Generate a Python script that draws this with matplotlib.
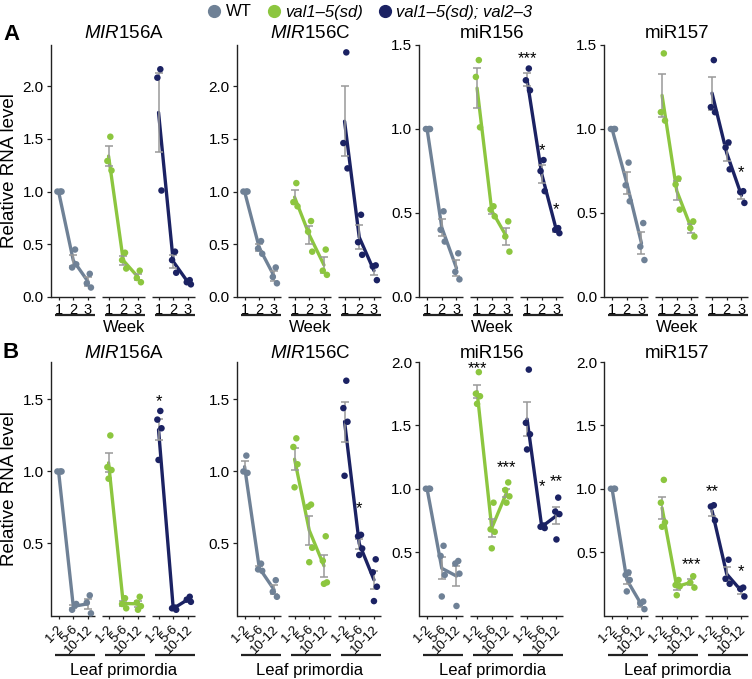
import numpy as np
import matplotlib.pyplot as plt
from matplotlib.lines import Line2D
from matplotlib.ticker import FormatStrFormatter
from matplotlib.transforms import ScaledTranslation

plt.rcParams['font.family'] = ['Liberation Sans', 'DejaVu Sans']
plt.rcParams['mathtext.fontset'] = 'custom'
plt.rcParams['mathtext.it'] = 'Liberation Sans:italic'
plt.rcParams['mathtext.rm'] = 'Liberation Sans'

# genotipos e cores
genotypes = ["WT", "val1–5(sd)", "val1–5(sd); val2–3"]
colors = ["#6f8196", "#8cc63f", "#1b2263"]
weeks = ["1", "2", "3"]
leaves = ["1-2", "5-6", "10-12"]

# A: replicas por genotipo -> por semana
a_mir156a = [
    [[1.0, 1.0, 1.0], [0.45, 0.28, 0.31], [0.22, 0.13, 0.09]],
    [[1.52, 1.29, 1.20], [0.42, 0.35, 0.27], [0.25, 0.18, 0.14]],
    [[2.16, 2.08, 1.01], [0.43, 0.35, 0.23], [0.16, 0.14, 0.12]],
]
a_mir156c = [
    [[1.0, 1.0, 1.0], [0.53, 0.46, 0.41], [0.28, 0.19, 0.13]],
    [[1.08, 0.90, 0.86], [0.72, 0.62, 0.43], [0.45, 0.25, 0.21]],
    [[2.32, 1.46, 1.22], [0.78, 0.52, 0.40], [0.30, 0.29, 0.16]],
]
a_mir156 = [
    [[1.0, 1.0, 1.0], [0.51, 0.40, 0.33], [0.26, 0.15, 0.105]],
    [[1.41, 1.31, 1.01], [0.54, 0.52, 0.48], [0.45, 0.36, 0.27]],
    [[1.36, 1.29, 1.23], [0.815, 0.75, 0.63], [0.41, 0.40, 0.38]],
]
a_mir157 = [
    [[1.0, 1.0, 1.0], [0.80, 0.665, 0.57], [0.44, 0.30, 0.22]],
    [[1.45, 1.10, 1.05], [0.705, 0.67, 0.52], [0.45, 0.41, 0.36]],
    [[1.41, 1.13, 1.10], [0.92, 0.89, 0.76], [0.63, 0.625, 0.56]],
]

# B: replicas por genotipo -> por primordio foliar
b_mir156a = [
    [[1.0, 1.0, 1.0], [0.07, 0.04, 0.08], [0.14, 0.09, 0.015]],
    [[1.25, 1.03, 1.01, 0.95], [0.12, 0.08, 0.05], [0.13, 0.09, 0.065, 0.04]],
    [[1.42, 1.36, 1.30, 1.08], [0.055, 0.05, 0.04], [0.13, 0.11, 0.095]],
]
b_mir156c = [
    [[1.11, 1.0, 0.99], [0.36, 0.32, 0.31], [0.245, 0.165, 0.13]],
    [[1.23, 1.17, 1.05, 0.89], [0.77, 0.755, 0.47, 0.37], [0.55, 0.38, 0.23, 0.22]],
    [[1.63, 1.44, 1.345, 0.97], [0.56, 0.55, 0.465, 0.42], [0.39, 0.30, 0.20, 0.10]],
]
b_mir156 = [
    [[1.0, 1.0, 1.0], [0.55, 0.47, 0.32, 0.15], [0.43, 0.41, 0.33, 0.075]],
    [[1.92, 1.75, 1.73, 1.67], [0.89, 0.68, 0.66, 0.53], [1.05, 0.99, 0.94, 0.89]],
    [[1.94, 1.52, 1.43, 1.31], [0.71, 0.70, 0.69], [0.93, 0.82, 0.80, 0.60]],
]
b_mir157 = [
    [[1.0, 1.0, 1.0], [0.34, 0.32, 0.28, 0.19], [0.11, 0.095, 0.05]],
    [[1.07, 0.89, 0.735, 0.70], [0.28, 0.24, 0.23, 0.16], [0.31, 0.26, 0.22]],
    [[0.87, 0.86, 0.75], [0.44, 0.29, 0.25], [0.22, 0.21, 0.15]],
]

# asteriscos: (genotipo, ponto, y, texto)
stars_a156 = [(2, 0, 1.45, "***"), (2, 1, 0.90, "*"), (2, 2, 0.55, "*")]
stars_a157 = [(2, 2, 0.77, "*")]
stars_b156a = [(2, 0, 1.52, "*")]
stars_b156c = [(2, 1, 0.78, "*")]
stars_b156 = [(1, 0, 1.99, "***"), (1, 2, 1.21, "***"), (2, 0, 2.01, "*"),
              (2, 1, 1.06, "*"), (2, 2, 1.10, "**")]
stars_b157 = [(2, 0, 1.02, "**"), (1, 2, 0.44, "***"), (2, 2, 0.39, "*")]

W, H = 752, 679
GAP = 3.4
XLIM = (-0.55, 9.45)
jit = np.array([0.12, -0.08, 0.2, 0.0])

fig = plt.figure(figsize=(W / 100, H / 100), dpi=100)


def add_ax(left, top, bottom, width=147):
    return fig.add_axes([left / W, 1 - bottom / H, width / W, (bottom - top) / H])


def draw(ax, px, reps, ylim, yticks, xlabels, stars, title, title_gap, under_px, xname, name_px, rotate):
    top_px, bot_px = px
    hpx = bot_px - top_px
    for g in range(3):
        xs = g * GAP + np.arange(3)
        means = [np.mean(v) for v in reps[g]]
        ses = [np.std(v, ddof=1) / np.sqrt(len(v)) for v in reps[g]]
        ax.plot(xs, means, color=colors[g], lw=2.4, zorder=2, solid_capstyle='round')
        ax.errorbar(xs, means, yerr=ses, fmt='none', ecolor='#999999', elinewidth=1.1,
                    capsize=3, capthick=1.1, zorder=3)
        for t in range(3):
            v = reps[g][t]
            ax.scatter(xs[t] + jit[:len(v)], v, s=22, color=colors[g], edgecolors='none',
                       zorder=4, clip_on=False)
    for g, t, y, txt in stars:
        ax.annotate(txt, (g * GAP + t, y), xytext=(0, -7), textcoords='offset points',
                    ha='center', va='baseline', fontsize=12)

    ax.set_xlim(*XLIM)
    ax.set_ylim(*ylim)
    ax.set_yticks(yticks)
    ax.yaxis.set_major_formatter(FormatStrFormatter('%.1f'))
    pos = [g * GAP + t for g in range(3) for t in range(3)]
    ax.set_xticks(pos)
    ax.set_xticklabels(xlabels * 3)
    for s in ['top', 'right', 'bottom']:
        ax.spines[s].set_visible(False)
    ax.spines['left'].set_color('#222222')
    ax.spines['left'].set_linewidth(1.0)
    ax.tick_params(axis='y', labelsize=11, length=3, width=0.9, pad=2, color='#222222')
    ax.tick_params(axis='x', labelsize=10.5, length=2.5, width=0.9, pad=1.5, color='#222222')
    if rotate:
        ax.tick_params(axis='x', labelsize=9.5, pad=3)
        for lab in ax.get_xticklabels():
            lab.set_rotation(45)
            lab.set_ha('right')
            lab.set_transform(lab.get_transform() + ScaledTranslation(0.07, 0, fig.dpi_scale_trans))

    tr = ax.get_xaxis_transform()
    uy = -(under_px - bot_px) / hpx
    for g in range(3):
        x0 = XLIM[0] if g == 0 else g * GAP - 0.45
        ax.plot([x0, g * GAP + 2.45], [0, 0], transform=tr, color='#222222', lw=1.0,
                clip_on=False, solid_capstyle='butt')
        ax.plot([g * GAP - 0.27, g * GAP + 2.45], [uy, uy], transform=tr, color='#222222',
                lw=1.6, clip_on=False, solid_capstyle='butt')
    ax.text(0.5, -(name_px - bot_px) / hpx, xname, transform=ax.transAxes, ha='center',
            va='center', fontsize=12)
    ax.text(0.5, 1 + title_gap / hpx, title, transform=ax.transAxes, ha='center',
            va='baseline', fontsize=13.5)


lefts = [50.5, 236.5, 419, 604]
titles = [r"$\mathit{MIR156}$A", r"$\mathit{MIR156}$C", "miR156", "miR157"]

row_a = [a_mir156a, a_mir156c, a_mir156, a_mir157]
lims_a = [(0, 2.39), (0, 2.39), (0, 1.5), (0, 1.5)]
ticks_a = [np.arange(0, 2.01, 0.5), np.arange(0, 2.01, 0.5), np.arange(0, 1.51, 0.5), np.arange(0, 1.51, 0.5)]
stars_a = [[], [], stars_a156, stars_a157]

row_b = [b_mir156a, b_mir156c, b_mir156, b_mir157]
lims_b = [(0, 1.76), (0, 1.76), (0, 2.0), (0, 2.0)]
ticks_b = [[0.5, 1.0, 1.5], [0.5, 1.0, 1.5], [0.5, 1.0, 1.5, 2.0], [0.5, 1.0, 1.5, 2.0]]
stars_b = [stars_b156a, stars_b156c, stars_b156, stars_b157]

for i in range(4):
    ax = add_ax(lefts[i], 45, 297)
    draw(ax, (45, 297), row_a[i], lims_a[i], ticks_a[i], weeks, stars_a[i], titles[i], 6.5,
         315, "Week", 327, False)

    ax = add_ax(lefts[i], 362, 615.5)
    draw(ax, (362, 615.5), row_b[i], lims_b[i], ticks_b[i], leaves, stars_b[i], titles[i], 4,
         655, "Leaf primordia", 670, True)

# rotulos do eixo y e letras dos paineis
fig.text(10 / W, 1 - 171 / H, "Relative RNA level", rotation=90, ha='center', va='center', fontsize=13.5)
fig.text(10 / W, 1 - 489 / H, "Relative RNA level", rotation=90, ha='center', va='center', fontsize=13.5)
fig.text(3 / W, 1 - 40 / H, "A", fontsize=16, fontweight='bold', va='baseline')
fig.text(3 / W, 1 - 358 / H, "B", fontsize=16, fontweight='bold', va='baseline')

# legenda em cima
handles = [Line2D([], [], marker='o', ls='', color=c, markersize=8.5) for c in colors]
leg = fig.legend(handles, genotypes, loc='center', bbox_to_anchor=(0.49, 1 - 12 / H), ncol=3,
                 frameon=False, fontsize=12, handletextpad=0.1, columnspacing=0.7,
                 handlelength=1.2, borderaxespad=0, borderpad=0)
for t in leg.get_texts()[1:]:
    t.set_fontstyle('italic')

fig.savefig("out.png", dpi=100)
